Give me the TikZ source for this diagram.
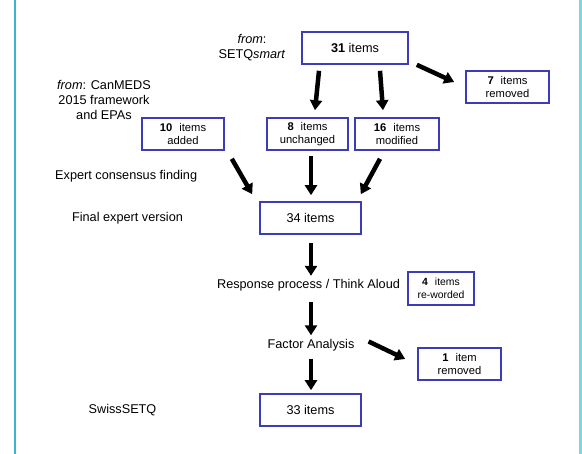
\documentclass[tikz,border=0pt]{standalone}
\usepackage{fontspec}
\setmainfont{Liberation Sans}
\usetikzlibrary{arrows.meta,calc}
\definecolor{boxblue}{RGB}{60,60,185}
\definecolor{frameleft}{RGB}{58,180,204}
\definecolor{frameright}{RGB}{128,214,224}
\tikzset{
	itembox/.style={draw=boxblue, line width=1.6pt, minimum height=32pt, inner sep=0pt, align=center, font=\fontsize{12.7}{15}\selectfont},
	smallbox/.style={itembox, font=\fontsize{11.2}{13.5}\selectfont},
	steplabel/.style={inner sep=0pt, text height=9pt, text depth=3pt, font=\fontsize{12.7}{15}\selectfont},
	sourcelabel/.style={inner sep=0pt, align=center, font=\fontsize{12.7}{15}\selectfont},
	bigarrow/.style={line width=4.5pt, -{Triangle[length=10pt,width=12pt]}},
}
\newcommand{\gap}{\hspace{7pt}}

\begin{document}
\begin{tikzpicture}[x=1pt, y=-1pt]
				\useasboundingbox (0,0) rectangle (582,454);
				\draw[frameleft, line width=1.2pt] (15,0) -- (15,454);
				\draw[frameright, line width=3pt] (580.5,0) -- (580.5,454);
				
				\node[itembox, minimum width=106pt] (n31) at (355,48) {\textbf{31} items};
				\node[smallbox, minimum width=83pt] (n7) at (507.5,87) {\textbf{7}\gap items\\removed};
				\node[smallbox, minimum width=82pt] (n10) at (183,134) {\textbf{10}\gap items\\added};
				\node[smallbox, minimum width=81pt] (n8) at (307.5,134) {\textbf{8}\gap items\\unchanged};
				\node[smallbox, minimum width=84pt] (n16) at (397,134) {\textbf{16}\gap items\\modified};
				\node[itembox, minimum width=101pt] (n34) at (310.5,218) {34 items};
				\node[smallbox, minimum width=66pt, minimum height=33pt, font=\fontsize{10.4}{13}\selectfont] (n4) at (441,288.5) {\textbf{4}\gap items\\re-worded};
				\node[smallbox, minimum width=83pt] (n1) at (459.5,364) {\textbf{1}\gap item\\removed};
				\node[itembox, minimum width=101pt] (n33) at (310.5,410) {33 items};
				
				\node[sourcelabel] (setq) at (252,48) {\textit{from}:\\SETQ\textit{smart}};
				\node[sourcelabel] (canmeds) at (104,100) {\textit{from}: CanMEDS\\2015 framework\\and EPAs};
				\node[steplabel, anchor=west] (consensus) at (55,176.5) {Expert consensus finding};
				\node[steplabel] (final) at (127.5,219) {Final expert version};
				\node[steplabel] (resp) at (308.5,286) {Response process / Think Aloud};
				\node[steplabel] (fa) at (311,346) {Factor Analysis};
				\node[steplabel] (swiss) at (122.5,411) {SwissSETQ};
				
				\draw[bigarrow] ([shift={(-36,6)}]n31.south) -- ([shift={(7.5,-7)}]n8.north);
				\draw[bigarrow] ([shift={(25,6)}]n31.south) -- ([shift={(-14,-7)}]n16.north);
				\draw[bigarrow] ([shift={(8,0)}]n31.south east) -- ([shift={(-11,-5)}]n7.west);
				\draw[bigarrow] ([shift={(7,8)}]n10.south east) -- ([shift={(-7,-7)}]n34.north west);
				\draw[bigarrow] ([shift={(3.5,5)}]n8.south) -- ([shift={(0.5,-6)}]n34.north);
				\draw[bigarrow] ([shift={(-17,8)}]n16.south) -- ([shift={(-1,-7)}]n34.north east);
				\draw[bigarrow] ([shift={(0.5,8)}]n34.south) -- ($(n34.south |- resp.north)+(0.5,-4)$);
				\draw[bigarrow] ($(n34.south |- resp.south)+(0.5,10)$) -- ($(n34.south |- fa.north)+(0.5,-4.5)$);
				\draw[bigarrow] ($(n34.south |- fa.south)+(0.5,6.5)$) -- ([shift={(0.5,-3)}]n33.north);
				\draw[bigarrow] ([shift={(14,-4.5)}]fa.east) -- ([shift={(-12,-5)}]n1.west);
\end{tikzpicture}
\end{document}
